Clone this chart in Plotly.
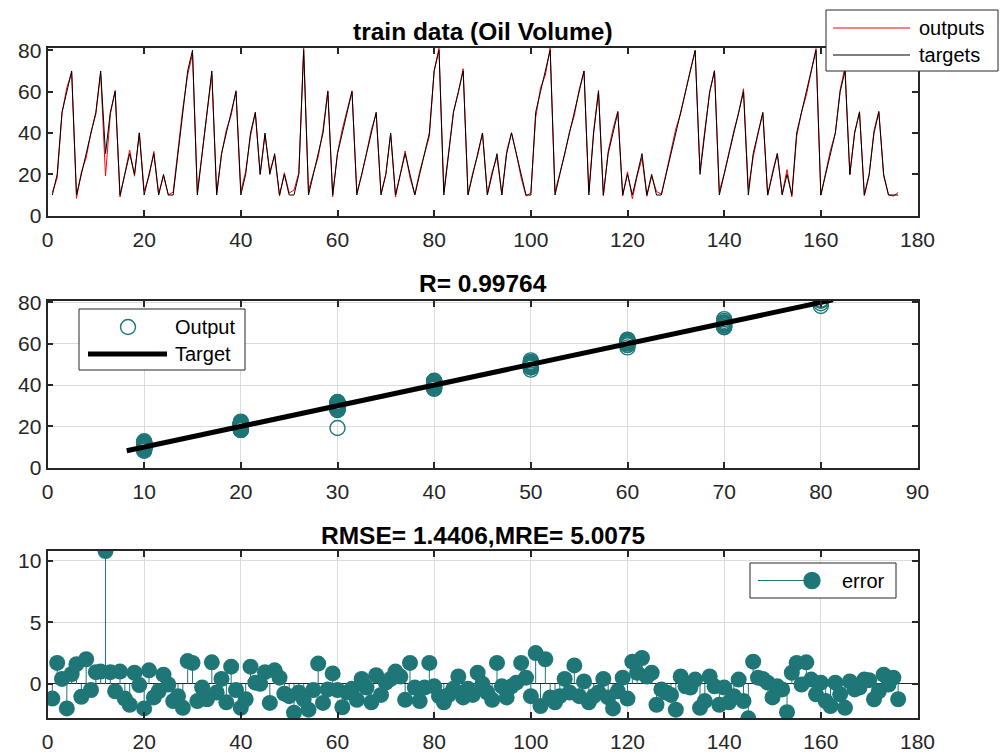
import plotly.graph_objects as go

# ---------------- data ----------------
sample_idx = list(range(1, 177))
targets = [10, 20, 50, 60, 70, 10, 20, 30, 40, 50, 70, 30, 50, 60, 10, 20, 30, 20, 40, 10,
           20, 30, 10, 20, 10, 10, 30, 50, 70, 80, 10, 30, 50, 70, 10, 30, 40, 50, 60, 10,
           20, 40, 50, 20, 40, 20, 30, 10, 20, 10, 10, 20, 80, 10, 20, 30, 40, 60, 10, 30,
           40, 50, 60, 10, 20, 30, 40, 50, 10, 20, 40, 10, 20, 30, 20, 10, 20, 30, 40, 70,
           80, 10, 30, 50, 60, 70, 10, 20, 30, 40, 10, 20, 30, 10, 30, 40, 30, 20, 10, 10,
           50, 60, 70, 80, 10, 20, 30, 40, 50, 60, 70, 10, 40, 60, 10, 30, 40, 50, 10, 20,
           10, 20, 30, 10, 20, 10, 10, 20, 30, 40, 50, 60, 70, 80, 20, 40, 60, 70, 10, 20,
           30, 40, 50, 60, 10, 30, 40, 50, 10, 20, 30, 10, 20, 10, 40, 50, 60, 70, 80, 10,
           20, 30, 40, 60, 70, 20, 40, 50, 10, 20, 40, 50, 20, 10, 10, 10]
outputs = [11.2, 18.3, 49.6, 62.0, 69.2, 8.4, 21.05, 28.0, 40.5, 49.05, 69.0, 19.2, 49.05, 60.6, 9.0,
           21.2, 31.7, 19.1, 40.1, 12.0, 18.9, 31.1, 10.6, 19.25, 10.05, 11.4, 31.0, 51.95, 68.15, 78.3,
           11.4, 30.3, 51.25, 68.25, 10.7, 29.6, 41.5, 48.6, 60.5, 11.95, 21.25, 38.6, 49.9, 20.0, 39.05,
           21.55, 28.9, 9.5, 20.8, 11.0, 12.35, 20.7, 81.25, 12.1, 20.5, 28.35, 41.55, 60.45, 9.15, 30.5,
           41.9, 50.7, 60.4, 11.3, 19.6, 30.3, 41.5, 49.3, 10.9, 19.9, 39.6, 9.0, 19.4, 31.3, 18.3,
           10.3, 21.4, 30.3, 38.3, 70.2, 81.0, 11.5, 30.9, 50.4, 59.4, 71.1, 10.4, 20.9, 29.1, 40.0,
           10.7, 21.3, 28.3, 10.2, 31.1, 40.2, 29.9, 18.3, 9.5, 11.0, 47.5, 61.8, 68.0, 81.1, 11.5,
           21.0, 29.6, 40.7, 48.5, 61.0, 69.8, 11.5, 41.0, 60.7, 9.6, 31.1, 42.0, 50.6, 9.5, 21.2,
           8.2, 19.1, 27.9, 9.4, 19.1, 11.7, 10.45, 20.7, 30.9, 42.1, 49.4, 60.2, 70.3, 79.65, 21.95,
           41.4, 59.4, 70.2, 11.7, 20.3, 31.5, 41.0, 49.65, 61.4, 12.8, 28.2, 39.5, 49.6, 9.9, 21.1,
           30.2, 10.45, 22.3, 9.1, 38.3, 50.05, 58.25, 69.65, 80.85, 9.9, 21.4, 31.8, 39.9, 60.85, 71.95,
           19.8, 40.45, 50.3, 9.65, 19.7, 41.25, 50.6, 19.25, 10.05, 9.5, 11.25]
errors = [t - o for t, o in zip(targets, outputs)]

titles = ["train data (Oil Volume)", "R= 0.99764", "RMSE= 1.4406,MRE= 5.0075"]
legend1_labels = ["outputs", "targets"]
legend2_labels = ["Output", "Target"]
legend3_labels = ["error"]

TEAL = "#1F7677"
AX = "#262626"
GRID = "#DCDCDC"
FONT = "Liberation Sans, Arial, sans-serif"

W, H = 1002, 756
def px(x):
    return x / W
def py(y):
    return 1 - y / H

xdom = [px(47.5), px(917.5)]
ydoms = [[py(215.7), py(47.7)], [py(467.7), py(300.7)], [py(718.3), py(551.0)]]

fig = go.Figure()

# ---- panel 1 ----
fig.add_trace(go.Scatter(x=sample_idx, y=outputs, mode="lines", name=legend1_labels[0],
                         line=dict(color="#FF0000", width=1), xaxis="x", yaxis="y"))
fig.add_trace(go.Scatter(x=sample_idx, y=targets, mode="lines", name=legend1_labels[1],
                         line=dict(color="#000000", width=1), xaxis="x", yaxis="y"))

# ---- panel 2 ----
fig.add_trace(go.Scatter(x=targets, y=outputs, mode="markers", name=legend2_labels[0],
                         marker=dict(symbol="circle-open", size=15, color=TEAL, line=dict(width=1.4, color=TEAL)),
                         xaxis="x2", yaxis="y2"))
lo, hi = min(outputs), max(outputs)
fig.add_trace(go.Scatter(x=[lo, hi], y=[lo, hi], mode="lines", name=legend2_labels[1],
                         line=dict(color="#000000", width=5), xaxis="x2", yaxis="y2"))

# ---- panel 3 (stem) ----
sx, sy = [], []
for i, e in zip(sample_idx, errors):
    sx += [i, i, None]
    sy += [0, e, None]
fig.add_trace(go.Scatter(x=sx, y=sy, mode="lines", line=dict(color=TEAL, width=1),
                         xaxis="x3", yaxis="y3", hoverinfo="skip", name=legend3_labels[0]))
fig.add_trace(go.Scatter(x=sample_idx, y=errors, mode="markers", name=legend3_labels[0],
                         marker=dict(size=16, color=TEAL), xaxis="x3", yaxis="y3"))

axcommon = dict(showline=True, linecolor=AX, linewidth=1.8, mirror="ticks", ticks="inside",
                ticklen=6, tickwidth=1.8, tickcolor=AX,
                tickfont=dict(family=FONT, size=21, color=AX))

layout = dict(
    width=W, height=H, margin=dict(l=0, r=0, t=0, b=0, autoexpand=False),
    paper_bgcolor="white", plot_bgcolor="white", showlegend=False,
    font=dict(family=FONT, color=AX),
    xaxis=dict(domain=xdom, anchor="y", range=[0, 180], tickvals=list(range(0, 181, 20)),
               showgrid=False, zeroline=False, ticklabelstandoff=4, **axcommon),
    yaxis=dict(domain=ydoms[0], anchor="x", range=[0, max(outputs)], tickvals=[0, 20, 40, 60, 80],
               showgrid=False, zeroline=False, **axcommon),
    xaxis2=dict(domain=xdom, anchor="y2", range=[0, 90], tickvals=list(range(0, 91, 10)),
                showgrid=True, gridcolor=GRID, gridwidth=1, zeroline=False, ticklabelstandoff=4, **axcommon),
    yaxis2=dict(domain=ydoms[1], anchor="x2", range=[0, max(outputs) - 0.4], tickvals=[0, 20, 40, 60, 80],
                showgrid=True, gridcolor=GRID, gridwidth=1, zeroline=False, **axcommon),
    xaxis3=dict(domain=xdom, anchor="y3", range=[0, 180], tickvals=list(range(0, 181, 20)),
                showgrid=True, gridcolor=GRID, gridwidth=1, zeroline=False, ticklabelstandoff=4, **axcommon),
    yaxis3=dict(domain=ydoms[2], anchor="x3", range=[min(errors), max(errors)], tickvals=[0, 5, 10],
                showgrid=True, gridcolor=GRID, gridwidth=1, zeroline=True, zerolinecolor=AX,
                zerolinewidth=1.2, **axcommon),
)
fig.update_layout(**layout)

LEGFONT = dict(family=FONT, size=20, color="#000000")

def legend_box(x0, x1, y0, y1):
    fig.add_shape(type="rect", xref="paper", yref="paper", x0=px(x0), x1=px(x1), y0=py(y1), y1=py(y0),
                  line=dict(color=AX, width=1), fillcolor="white", layer="above")

def legend_text(text, x, y):
    fig.add_annotation(text=text, xref="paper", yref="paper", x=px(x), y=py(y), xanchor="left",
                       yanchor="middle", showarrow=False, font=LEGFONT)

def hline(x0, x1, y, color, width):
    fig.add_shape(type="line", xref="paper", yref="paper", x0=px(x0), x1=px(x1), y0=py(y), y1=py(y),
                  line=dict(color=color, width=width), layer="above")

def circle(cx, cy, d, fill):
    fig.add_shape(type="circle", xref="paper", yref="paper", x0=px(cx - d / 2), x1=px(cx + d / 2),
                  y0=py(cy + d / 2), y1=py(cy - d / 2), line=dict(color=TEAL, width=1.4),
                  fillcolor=TEAL if fill else "rgba(0,0,0,0)", layer="above")

# legend 1 (top right)
legend_box(826, 998, 10, 71)
hline(833, 910, 28, "#FF0000", 1)
hline(833, 910, 55, "#000000", 1)
legend_text(legend1_labels[0], 917, 28)
legend_text(legend1_labels[1], 917, 55)

# legend 2 (middle panel)
legend_box(79, 245, 309, 370)
circle(128, 327, 15, False)
hline(88, 167, 354, "#000000", 5)
legend_text(legend2_labels[0], 173, 327)
legend_text(legend2_labels[1], 173, 354)

# legend 3 (stem panel)
legend_box(750, 896, 563, 598)
hline(758, 812, 580.5, TEAL, 1)
circle(812, 580.5, 16, True)
legend_text(legend3_labels[0], 840, 581)

title_y = [31, 283, 535]
for t, ty in zip(titles, title_y):
    fig.add_annotation(text="<b>" + t + "</b>", xref="paper", yref="paper",
                       x=(xdom[0] + xdom[1]) / 2, y=py(ty), xanchor="center", yanchor="middle",
                       showarrow=False, font=dict(family=FONT, size=24.5, color="#000000"))

fig.write_html("out.html", config={"displayModeBar": False},
               post_script="document.body.style.margin='0px';document.body.style.padding='0px';")
